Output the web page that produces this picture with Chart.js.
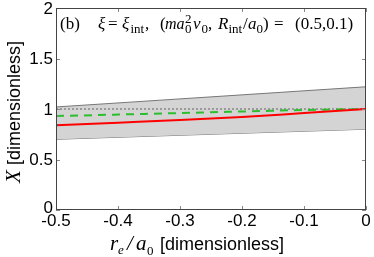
<!DOCTYPE html>
<html><head><meta charset="utf-8">
<script src="https://cdn.jsdelivr.net/npm/chart.js@4"></script>
<style>html,body{margin:0;padding:0;background:#fff}#w{width:374px;height:257px}</style>
</head><body><div id="w"><canvas id="c" width="374" height="257"></canvas></div>
<script>
const xs = [-0.5, -0.4, -0.3, -0.2, -0.1, 0];
const bandUpper = [1.02, 1.06, 1.10, 1.14, 1.18, 1.22];
const bandLower = [0.70, 0.72, 0.74, 0.76, 0.78, 0.80];
const redLine = [0.84, 0.865, 0.89, 0.92, 0.96, 1.0];
const greenLine = [0.93, 0.945, 0.96, 0.975, 0.99, 1.0];
const refLine = [1, 1, 1, 1, 1, 1];
const xTicks = [-0.5, -0.4, -0.3, -0.2, -0.1, 0];
const yTicks = [0, 0.5, 1, 1.5, 2];

const pts = a => xs.map((x, i) => ({x: x, y: a[i]}));
const SANS = '"Liberation Sans", Arial, sans-serif';
const SERIF = '"Liberation Serif", "Times New Roman", serif';

function measureRich(ctx, parts) {
  let w = 0;
  for (const p of parts) { ctx.font = p[1]; w += ctx.measureText(p[0]).width + (p[3] || 0); }
  return w;
}
function drawRich(ctx, parts, x, y) {
  let cx = x;
  for (const p of parts) {
    ctx.font = p[1];
    ctx.fillText(p[0], cx, y + (p[2] || 0));
    cx += ctx.measureText(p[0]).width + (p[3] || 0);
  }
}
function drawAt(ctx, items, y) {
  for (const it of items) { ctx.font = it[1]; ctx.fillText(it[0], it[2], y + (it[3] || 0)); }
}

const deco = {
  id: 'deco',
  afterDraw(chart) {
    const ctx = chart.ctx, a = chart.chartArea;
    const sx = chart.scales.x, sy = chart.scales.y;
    ctx.save();
    ctx.strokeStyle = '#888'; ctx.lineWidth = 1;
    ctx.beginPath();
    for (const v of xTicks) {
      const px = Math.round(sx.getPixelForValue(v)) + 0.5;
      ctx.moveTo(px, a.bottom); ctx.lineTo(px, a.bottom - 4);
      ctx.moveTo(px, a.top); ctx.lineTo(px, a.top + 4);
    }
    for (const v of yTicks) {
      const py = Math.round(sy.getPixelForValue(v)) + 0.5;
      ctx.moveTo(a.left, py); ctx.lineTo(a.left + 4, py);
      ctx.moveTo(a.right, py); ctx.lineTo(a.right - 4, py);
    }
    ctx.stroke();
    ctx.strokeStyle = '#444'; ctx.lineWidth = 1;
    ctx.strokeRect(a.left + 0.5, a.top + 0.5, a.right - a.left - 1, a.bottom - a.top - 1);
    ctx.fillStyle = '#000';
    ctx.font = '17px ' + SANS;
    ctx.textAlign = 'right'; ctx.textBaseline = 'middle';
    for (const v of yTicks) {
      ctx.fillText(String(v), a.left - 3, sy.getPixelForValue(v) + (v === 0 ? -2 : 1));
    }
    ctx.textAlign = 'center'; ctx.textBaseline = 'top';
    for (const v of xTicks) {
      ctx.fillText(String(v), sx.getPixelForValue(v), a.bottom + 3);
    }
    // annotation
    ctx.textAlign = 'left'; ctx.textBaseline = 'alphabetic';
    const f = '17px ' + SERIF, fi = 'italic 17px ' + SERIF, fi2 = 'italic 16px ' + SERIF, fs = '13px ' + SERIF;
    drawAt(ctx, [
      ['(b)', f, 60], ['ξ', fi, 98], ['=', f, 108], ['ξ', fi, 122], ['int', fs, 130.5, 3.5], [',', f, 145],
      ['(', f, 160], ['ma', fi2, 165], ['0', fs, 185, 3.5], ['2', fs, 185, -6], ['ν', fi, 193], ['0', fs, 201.5, 3.5], [',', f, 208],
      ['R', fi, 218], ['int', fs, 228.5, 3.5], ['/', f, 243], ['a', fi, 248], ['0', fs, 256.5, 3.5], [')', f, 263],
      ['=', f, 274], ['(0.5,0.1)', f, 295]
    ], 29);
    // x title
    const tf = '18px ' + SANS, tfi = 'italic 21px ' + SERIF, tfs = 'italic 13px ' + SERIF, tfs2 = '13px ' + SERIF;
    drawAt(ctx, [['r', tfi, 110], ['e', tfs, 118, 4], ['/', tfi, 127], ['a', tfi, 136], ['0', tfs2, 147, 5], ['[dimensionless]', tf, 160]], 250);
    // y title
    ctx.translate(20, 112);
    ctx.rotate(-Math.PI / 2);
    const yparts = [['X', 'italic 21px ' + SERIF, 0, 5], ['[dimensionless]', tf]];
    const yw = measureRich(ctx, yparts);
    drawRich(ctx, yparts, -yw / 2, 0);
    ctx.restore();
  }
};

new Chart(document.getElementById('c'), {
  type: 'line',
  data: {
    datasets: [
      {data: pts(bandUpper), borderColor: '#777', borderWidth: 1, backgroundColor: '#d4d4d4', fill: '+1', pointRadius: 0, order: 5},
      {data: pts(bandLower), borderColor: '#777', borderWidth: 1, pointRadius: 0, fill: false, order: 5},
      {data: pts(refLine), borderColor: '#888', borderWidth: 1.5, borderDash: [2, 2], pointRadius: 0, fill: false, order: 3},
      {data: pts(greenLine), borderColor: '#2ebd2e', borderWidth: 2, borderDash: [8, 6], pointRadius: 0, fill: false, cubicInterpolationMode: 'monotone', order: 2},
      {data: pts(redLine), borderColor: '#ff0000', borderWidth: 2, pointRadius: 0, fill: false, cubicInterpolationMode: 'monotone', order: 1}
    ]
  },
  options: {
    responsive: false, animation: false, devicePixelRatio: 1,
    layout: {padding: {top: 8, right: 8, left: 0, bottom: 0}},
    plugins: {legend: {display: false}, tooltip: {enabled: false}},
    scales: {
      x: {type: 'linear', min: -0.5, max: 0, grid: {display: false}, border: {display: false},
          ticks: {display: false}, afterFit: s => { s.height = 47; }},
      y: {type: 'linear', min: 0, max: 2, grid: {display: false}, border: {display: false},
          ticks: {display: false}, afterFit: s => { s.width = 56; }}
    }
  },
  plugins: [deco]
});
</script></body></html>
